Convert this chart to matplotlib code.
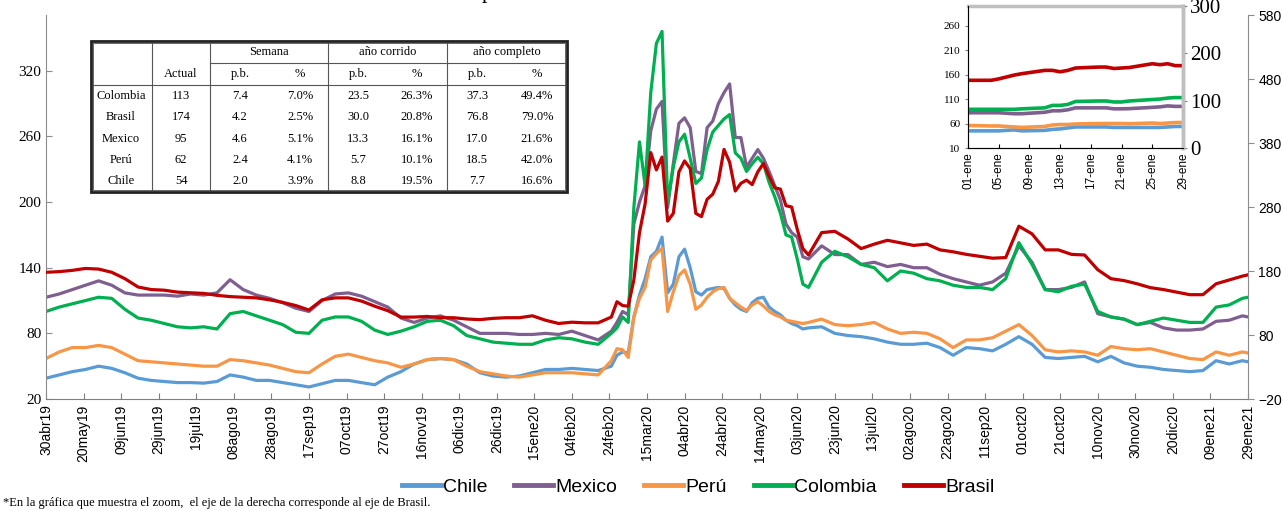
# Spreads CDS 5 años - Latinoamérica, con zoom de enero 2021
import numpy as np
import pandas as pd
import matplotlib
matplotlib.use('Agg')
import matplotlib.pyplot as plt

# ---- serie principal ----
fechas = [
    "2019-04-30", "2019-05-07", "2019-05-14", "2019-05-21", "2019-05-28", "2019-06-04", "2019-06-11",
    "2019-06-18", "2019-06-25", "2019-07-02", "2019-07-09", "2019-07-16", "2019-07-23", "2019-07-30",
    "2019-08-06", "2019-08-13", "2019-08-20", "2019-08-27", "2019-09-03", "2019-09-10", "2019-09-17",
    "2019-09-24", "2019-10-01", "2019-10-08", "2019-10-15", "2019-10-22", "2019-10-29", "2019-11-05",
    "2019-11-12", "2019-11-19", "2019-11-26", "2019-12-03", "2019-12-10", "2019-12-17", "2019-12-24",
    "2019-12-31", "2020-01-07", "2020-01-14", "2020-01-21", "2020-01-28", "2020-02-04", "2020-02-11",
    "2020-02-18", "2020-02-25",
    "2020-02-28", "2020-03-02", "2020-03-05", "2020-03-08", "2020-03-11", "2020-03-14", "2020-03-17",
    "2020-03-20", "2020-03-23", "2020-03-26", "2020-03-29", "2020-04-01", "2020-04-04", "2020-04-07",
    "2020-04-10", "2020-04-13", "2020-04-16", "2020-04-19", "2020-04-22", "2020-04-25", "2020-04-28",
    "2020-05-01", "2020-05-04", "2020-05-07", "2020-05-10", "2020-05-13", "2020-05-16", "2020-05-19",
    "2020-05-22", "2020-05-25", "2020-05-28", "2020-05-31", "2020-06-03", "2020-06-06",
    "2020-06-09", "2020-06-16", "2020-06-23", "2020-06-30", "2020-07-07", "2020-07-14", "2020-07-21",
    "2020-07-28", "2020-08-04", "2020-08-11", "2020-08-18", "2020-08-25", "2020-09-01", "2020-09-08",
    "2020-09-15", "2020-09-22", "2020-09-29", "2020-10-06", "2020-10-13", "2020-10-20", "2020-10-27",
    "2020-11-03", "2020-11-10", "2020-11-17", "2020-11-24", "2020-12-01", "2020-12-08", "2020-12-15",
    "2020-12-22", "2020-12-29", "2021-01-05", "2021-01-12", "2021-01-19", "2021-01-26", "2021-01-29",
]

chile = [39, 42, 45, 47, 50, 48, 44, 39, 37, 36, 35, 35, 34.5, 36, 42, 40, 37, 37, 35, 33, 31, 34,
         37, 37, 35, 33, 40, 45, 52, 56, 57, 56, 52, 44, 41, 40, 41, 44, 47, 47, 48, 47, 46, 50,
         60, 63, 62, 95, 115, 130, 150, 155, 168, 117, 125, 150, 157, 140, 118, 115, 120, 121, 122,
         121, 112, 106, 102, 100, 108, 112, 113, 104, 100, 97, 92, 89, 87, 84,
         85, 86, 80, 78, 77, 75, 72, 70, 70, 71, 67, 60, 67, 66, 64, 70, 77, 70, 58, 57, 58, 59,
         54, 59, 53, 50, 49, 47, 46, 45, 46, 55, 52, 55, 54]
peru = [57, 63, 67, 67, 69, 67, 61, 55, 54, 53, 52, 51, 50, 50, 56, 55, 53, 51, 48, 45, 44, 52,
        59, 61, 58, 55, 53, 49, 52, 56, 57, 56, 50, 45, 43, 41, 40, 42, 44, 44, 44, 43, 42, 55,
        66, 65, 58, 95, 112, 122, 147, 153, 158, 100, 118, 133, 138, 125, 102, 106, 113, 118, 121,
        122, 112, 108, 104, 101, 106, 109, 105, 100, 97, 95, 92, 91, 90, 89,
        90, 93, 88, 87, 88, 90, 84, 80, 81, 80, 75, 67, 74, 74, 76, 82, 88, 78, 65, 63, 64, 63,
        60, 68, 66, 65, 66, 63, 60, 57, 56, 63, 60, 63, 62]
mexico = [113, 116, 120, 124, 128, 124, 117, 115, 115, 115, 114, 116, 115, 117, 129, 120, 115, 112,
          108, 103, 100, 110, 116, 117, 114, 109, 104, 94, 90, 94, 96, 92, 86, 80, 80, 80, 79, 79,
          80, 79, 82, 78, 74, 82,
          90, 100, 97, 180, 200, 215, 265, 285, 292, 195, 235, 272, 277, 268, 228, 226, 268, 274,
          290, 300, 308, 259, 259, 232, 240, 248, 240, 228, 215, 202, 180, 172, 168, 150,
          148, 160, 152, 152, 143, 145, 141, 143, 140, 140, 134, 130, 127, 124, 127, 135, 160, 145,
          120, 120, 122, 127, 98, 95, 93, 88, 90, 85, 83, 83, 84, 91, 92, 96, 95]
colombia = [100, 104, 107, 110, 113, 112, 102, 94, 92, 89, 86, 85, 86, 84, 98, 100, 96, 92, 88, 81,
            80, 92, 95, 95, 91, 83, 79, 82, 86, 91, 92, 87, 78, 75, 72, 71, 70, 70, 74, 76, 75, 72,
            70, 80,
            85, 95, 90, 195, 255, 215, 300, 345, 356, 200, 232, 255, 262, 240, 217, 222, 248, 264,
            270, 276, 280, 245, 240, 228, 235, 241, 235, 218, 205, 190, 170, 168, 148, 125,
            122, 145, 155, 150, 143, 140, 128, 137, 135, 130, 128, 124, 122, 122, 120, 130, 163, 143,
            120, 118, 123, 125, 100, 95, 93, 88, 91, 94, 92, 90, 90, 104, 106, 112, 113]
brasil = [178, 179, 181, 184, 183, 178, 168, 155, 151, 150, 147, 146, 145, 142, 140, 139, 138, 135,
          131, 126, 119, 135, 138, 138, 133, 125, 118, 108, 108, 109, 107, 107, 105, 104, 106, 107,
          107, 110, 103, 98, 100, 99, 99, 108,
          132, 126, 125, 166, 240, 285, 365, 338, 358, 258, 270, 335, 352, 340, 270, 265, 292, 300,
          320, 370, 350, 305, 317, 322, 315, 335, 348, 328, 310, 308, 282, 280, 245, 215,
          205, 240, 242, 230, 215, 222, 228, 224, 220, 222, 213, 210, 206, 203, 200, 201, 250, 238,
          213, 213, 206, 205, 182, 168, 165, 160, 154, 151, 147, 143, 143, 160, 166, 172, 174]

# ---- zoom enero 2021 ----
fechas_zoom = ["2021-01-01", "2021-01-04", "2021-01-05", "2021-01-06", "2021-01-07", "2021-01-08",
               "2021-01-11", "2021-01-12", "2021-01-13", "2021-01-14", "2021-01-15", "2021-01-18",
               "2021-01-19", "2021-01-20", "2021-01-21", "2021-01-22", "2021-01-25", "2021-01-26",
               "2021-01-27", "2021-01-28", "2021-01-29"]
chile_z = [45, 45, 45, 46, 47, 45, 46, 48, 49, 51, 53, 53, 53, 52, 52, 52, 52, 52, 53, 54, 54]
peru_z = [56, 55, 55, 54, 53, 52, 54, 57, 58, 58, 59, 60, 60, 60, 60, 59.6, 61, 60, 61, 62, 62]
mexico_z = [82, 82, 82, 81, 80, 80, 83, 86, 86, 88, 92, 92, 92, 90, 90, 90.4, 93, 94, 96, 95, 95]
colombia_z = [89, 89, 89, 89, 89, 90, 92, 97, 97, 99, 105, 106, 106, 104, 104, 106, 109, 110, 112, 113, 113]
brasil_z = [143, 143, 146, 150, 154, 157, 164, 164, 161, 164, 169, 171, 171, 168, 169, 170, 178, 176, 178, 174, 174]

# ---- tabla ----
paises_tabla = ["Colombia", "Brasil", "Mexico", "Perú", "Chile"]
actual = ["113", "174", "95", "62", "54"]
sem_pb = ["7.4", "4.2", "4.6", "2.4", "2.0"]
sem_pct = ["7.0%", "2.5%", "5.1%", "4.1%", "3.9%"]
corr_pb = ["23.5", "30.0", "13.3", "5.7", "8.8"]
corr_pct = ["26.3%", "20.8%", "16.1%", "10.1%", "19.5%"]
comp_pb = ["37.3", "76.8", "17.0", "18.5", "7.7"]
comp_pct = ["49.4%", "79.0%", "21.6%", "42.0%", "16.6%"]

meses = ["ene", "feb", "mar", "abr", "may", "jun", "jul", "ago", "sep", "oct", "nov", "dic"]
c_chile, c_mex, c_peru, c_col, c_bra = '#5B9BD5', '#7F5F8F', '#F79646', '#00B050', '#C00000'
sans = 'Liberation Sans'
serif = 'Liberation Serif'

x = pd.to_datetime(fechas)
xz = pd.to_datetime(fechas_zoom)

fig = plt.figure(figsize=(12.82, 5.11), dpi=100)
ax = fig.add_axes([46 / 1282, 1 - 399 / 511, (1248 - 46) / 1282, (399 - 15) / 511])
ax2 = ax.twinx()

lw = 2.3
l1, = ax.plot(x, chile, color=c_chile, lw=lw, label='Chile')
l2, = ax.plot(x, mexico, color=c_mex, lw=lw, label='Mexico')
l3, = ax.plot(x, peru, color=c_peru, lw=lw, label='Perú')
l4, = ax.plot(x, colombia, color=c_col, lw=lw, label='Colombia')
l5, = ax2.plot(x, brasil, color=c_bra, lw=lw, label='Brasil')

ax.set_xlim(pd.Timestamp("2019-04-30"), pd.Timestamp("2021-01-29"))
ax.set_ylim(20, 371)
ax.set_yticks(np.arange(20, 321, 60))
ax2.set_ylim(-20, 580)
ax2.set_yticks(np.arange(-20, 581, 100))

ticks = pd.date_range("2019-04-30", "2021-01-29", freq='20D')
ax.set_xticks(ticks)
ax.set_xticklabels([f"{d.day:02d}{meses[d.month - 1]}{d.year % 100:02d}" for d in ticks],
                   rotation=90, fontsize=10, family=sans)

for s in ['top', 'right']:
    ax.spines[s].set_visible(False)
for s in ['top', 'left', 'bottom']:
    ax2.spines[s].set_visible(False)
ax.spines['left'].set_color('#8c8c8c')
ax.spines['bottom'].set_color('#7f7f7f')
ax2.spines['right'].set_color('#8c8c8c')
ax.tick_params(axis='x', direction='in', length=4, color='#7f7f7f', pad=4)
ax.tick_params(axis='y', direction='in', length=4, color='#8c8c8c', labelsize=11)
ax2.tick_params(axis='y', direction='out', length=4, color='#8c8c8c', labelsize=10)
for t in ax.get_yticklabels():
    t.set_fontfamily(serif)
for t in ax2.get_yticklabels():
    t.set_fontfamily(sans)

# ---- inset ----
axi = fig.add_axes([968 / 1282, 1 - 148 / 511, (1183 - 968) / 1282, (148 - 6) / 511])
axi2 = axi.twinx()
lwi = 2.6
axi.plot(xz, chile_z, color=c_chile, lw=lwi)
axi.plot(xz, mexico_z, color=c_mex, lw=lwi)
axi.plot(xz, peru_z, color=c_peru, lw=lwi)
axi.plot(xz, colombia_z, color=c_col, lw=lwi)
axi2.plot(xz, brasil_z, color=c_bra, lw=lwi)
axi.set_xlim(pd.Timestamp("2021-01-01"), pd.Timestamp("2021-01-29"))
axi.set_ylim(10, 300)
axi.set_yticks(np.arange(10, 261, 50))
axi2.set_ylim(0, 300)
axi2.set_yticks([0, 100, 200, 300])
zt = pd.date_range("2021-01-01", "2021-01-29", freq='4D')
axi.set_xticks(zt)
axi.set_xticklabels([f"{d.day:02d}-{meses[d.month - 1]}" for d in zt], rotation=90,
                    fontsize=8.5, family=sans)
for s in ['top', 'right']:
    axi.spines[s].set_color('#bfbfbf')
    axi.spines[s].set_linewidth(2.5)
axi2.spines['right'].set_color('#bfbfbf')
axi2.spines['right'].set_linewidth(2.5)
axi2.spines['top'].set_visible(False)
axi.spines['left'].set_color('#7f7f7f')
axi.spines['bottom'].set_color('#404040')
axi.tick_params(axis='x', direction='in', length=3, pad=3)
axi.tick_params(axis='y', direction='out', length=2, labelsize=8, color='#7f7f7f')
axi2.tick_params(axis='y', direction='out', length=3, labelsize=15, color='#7f7f7f', pad=2)
for t in axi.get_yticklabels():
    t.set_fontfamily(serif)
for t in axi2.get_yticklabels():
    t.set_fontfamily(serif)

# ---- tabla ----
tb = fig.add_axes([91 / 1282, 1 - 192 / 511, (567 - 91) / 1282, (192 - 41) / 511])
tb.set_xlim(91, 567)
tb.set_ylim(192, 41)
tb.axis('off')
tb.add_patch(plt.Rectangle((91, 41), 476, 151, fill=False, lw=2.0, ec='#222222', clip_on=False))
tb.add_patch(plt.Rectangle((93, 43), 472, 147, fill=False, lw=0.7, ec='#666666', clip_on=False))
for xv in [152, 210, 328, 447]:
    tb.plot([xv, xv], [43, 190], color='#555555', lw=0.8)
tb.plot([210, 565], [63, 63], color='#555555', lw=0.8)
tb.plot([93, 565], [85, 85], color='#555555', lw=0.8)

fs = 9
cols_pb = [240, 358, 477]
cols_pct = [300, 417, 537]
for xc, txt in zip([269, 387.5, 507], ["Semana", "año corrido", "año completo"]):
    tb.text(xc, 52, txt, ha='center', va='center', fontsize=fs, family=serif)
tb.text(181, 74, "Actual", ha='center', va='center', fontsize=fs, family=serif)
for i in range(3):
    tb.text(cols_pb[i], 74, "p.b.", ha='center', va='center', fontsize=fs, family=serif)
    tb.text(cols_pct[i], 74, "%", ha='center', va='center', fontsize=fs, family=serif)
for i, p in enumerate(paises_tabla):
    yc = 85 + 21.4 * (i + 0.5)
    fila = [actual[i], sem_pb[i], sem_pct[i], corr_pb[i], corr_pct[i], comp_pb[i], comp_pct[i]]
    tb.text(121, yc, p, ha='center', va='center', fontsize=fs, family=serif)
    for xc, v in zip([181] + [c for pair in zip(cols_pb, cols_pct) for c in pair], fila):
        tb.text(xc, yc, v, ha='center', va='center', fontsize=fs, family=serif)

# ---- leyenda y notas ----
leg = fig.legend([l1, l2, l3, l4, l5], ['Chile', 'Mexico', 'Perú', 'Colombia', 'Brasil'],
                 loc='center', bbox_to_anchor=(0.5445, 0.047), ncol=5, frameon=False,
                 handlelength=2.0, handletextpad=0.1, columnspacing=1.4,
                 prop={'family': sans, 'size': 14})
for h in leg.legend_handles:
    h.set_linewidth(3.5)

fig.text(0.002, 0.016, "*En la gráfica que muestra el zoom,  el eje de la derecha corresponde al eje de Brasil.",
         fontsize=9, family=serif, va='center', ha='left')
fig.text(0.38, 1.012, "p", fontsize=16, family=serif, va='center', ha='center')

plt.savefig('out.png', dpi=100)
